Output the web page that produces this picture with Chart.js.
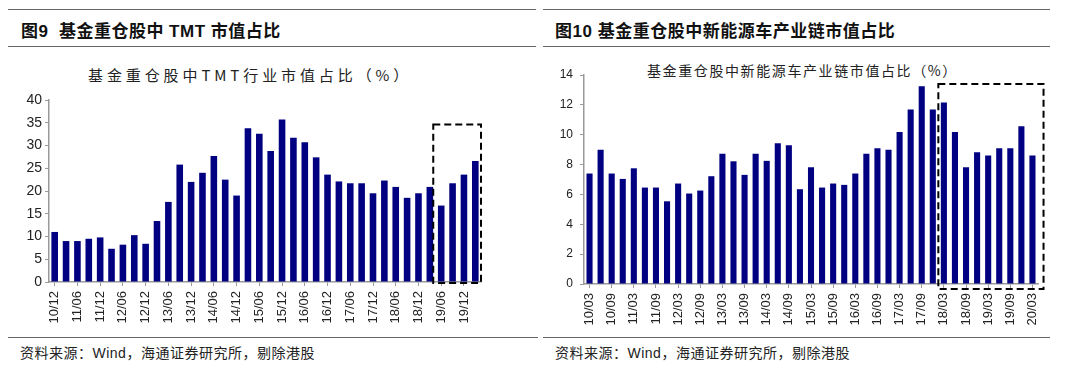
<!DOCTYPE html>
<html>
<head>
<meta charset="utf-8">
<script src="https://cdn.jsdelivr.net/npm/chart.js@4.4.1/dist/chart.umd.min.js"></script>
<style>
  body { margin: 0; background: #fff; width: 1080px; height: 379px; position: relative; overflow: hidden;
         font-family: "Liberation Sans", "Noto Sans CJK SC", sans-serif; color: #111; }
  .rule { position: absolute; height: 0; border-top: 1px solid #666; }
  .head { position: absolute; top: 17px; font-size: 17px; font-weight: bold; letter-spacing: 0.5px; white-space: nowrap; }
  .ctitle { position: absolute; font-family: "Noto Sans CJK SC", sans-serif; white-space: nowrap; color: #222; }
  .src { position: absolute; top: 342px; font-size: 14px; letter-spacing: 0.5px; white-space: nowrap; color: #222; }
  .box { position: absolute; }
</style>
</head>
<body>
<div class="rule" style="left:8px;width:528px;top:9px"></div>
<div class="rule" style="left:8px;width:528px;top:46px"></div>
<div class="rule" style="left:543px;width:507px;top:9px"></div>
<div class="rule" style="left:543px;width:507px;top:46px"></div>
<div class="rule" style="left:8px;width:530px;top:337px"></div>
<div class="rule" style="left:543px;width:507px;top:337px"></div>

<div class="head" style="left:21px">图9&nbsp;&nbsp;基金重仓股中 TMT 市值占比</div>
<div class="head" style="left:555px">图10 基金重仓股中新能源车产业链市值占比</div>

<div class="ctitle" style="left:88px;top:64px;font-size:15px;letter-spacing:3.9px">基金重仓股中TMT行业市值占比（%）</div>
<div class="ctitle" style="left:647px;top:60px;font-size:14px;letter-spacing:1.6px">基金重仓股中新能源车产业链市值占比（%）</div>

<div class="src" style="left:20px">资料来源：Wind，海通证券研究所，剔除港股</div>
<div class="src" style="left:555px">资料来源：Wind，海通证券研究所，剔除港股</div>

<div class="box" style="left:0;top:52px;width:540px;height:290px"><canvas id="tmtChart"></canvas></div>
<div class="box" style="left:540px;top:52px;width:540px;height:290px"><canvas id="nevChart"></canvas></div>

<script>
// TMT share, quarterly 10/12 - 20/03
var tmtLabels = ['10/12','11/03','11/06','11/09','11/12','12/03','12/06','12/09','12/12','13/03','13/06','13/09','13/12',
  '14/03','14/06','14/09','14/12','15/03','15/06','15/09','15/12','16/03','16/06','16/09','16/12','17/03','17/06','17/09','17/12',
  '18/03','18/06','18/09','18/12','19/03','19/06','19/09','19/12','20/03'];
var tmtValues = [11.0, 9.0, 9.0, 9.5, 9.8, 7.3, 8.2, 10.3, 8.4, 13.4, 17.6, 25.8, 22.0, 24.0, 27.7, 22.5, 19.0, 33.8, 32.6,
  28.8, 35.7, 31.7, 30.7, 27.4, 23.6, 22.1, 21.7, 21.7, 19.5, 22.3, 20.9, 18.5, 19.5, 20.9, 16.8, 21.7, 23.6, 26.6];
var tmtTicks = [0, 5, 10, 15, 20, 25, 30, 35, 40];

// new energy vehicle chain share, quarterly 10/03 - 20/03
var nevLabels = ['10/03','10/06','10/09','10/12','11/03','11/06','11/09','11/12','12/03','12/06','12/09','12/12',
  '13/03','13/06','13/09','13/12','14/03','14/06','14/09','14/12','15/03','15/06','15/09','15/12','16/03','16/06','16/09','16/12',
  '17/03','17/06','17/09','17/12','18/03','18/06','18/09','18/12','19/03','19/06','19/09','19/12','20/03'];
var nevValues = [7.4, 9.0, 7.4, 7.04, 7.75, 6.46, 6.46, 5.54, 6.73, 6.06, 6.26, 7.22, 8.72, 8.22, 7.31, 8.72, 8.25, 9.43, 9.3,
  6.35, 7.82, 6.46, 6.73, 6.64, 7.4, 8.72, 9.09, 9.0, 10.19, 11.69, 13.25, 11.69, 12.16, 10.19, 7.82, 8.83, 8.6, 9.09, 9.09, 10.57, 8.6];
var nevTicks = [0, 2, 4, 6, 8, 10, 12, 14];

var navy = '#000080';
var axisGray = '#9a9a9a';

// dashed highlight box, given in category index / value units
var dashBox = {
  id: 'dashBox',
  afterDatasetsDraw: function(chart, args, opts) {
    var x = chart.scales.x, y = chart.scales.y, c = chart.ctx;
    var x0 = x.getPixelForValue(opts.from), x1 = x.getPixelForValue(opts.to);
    var y0 = y.getPixelForValue(opts.top), y1 = y.getPixelForValue(opts.bottom);
    c.save();
    c.strokeStyle = '#000';
    c.lineWidth = 2;
    c.setLineDash([7, 4]);
    c.strokeRect(x0, y0, x1 - x0, y1 - y0);
    c.restore();
  }
};

function makeChart(id, labels, values, ticks, cfg) {
  return new Chart(document.getElementById(id).getContext('2d'), {
    type: 'bar',
    data: {
      labels: labels,
      datasets: [{
        data: values,
        backgroundColor: navy,
        borderWidth: 0,
        barPercentage: cfg.barPct,
        categoryPercentage: 1
      }]
    },
    plugins: [dashBox],
    options: {
      responsive: true,
      maintainAspectRatio: false,
      animation: false,
      layout: { padding: { top: cfg.padTop, right: cfg.padRight, left: 0, bottom: 0 } },
      plugins: {
        legend: { display: false },
        tooltip: { enabled: false },
        dashBox: cfg.box
      },
      scales: {
        x: {
          offset: true,
          grid: {
            offset: false,
            drawOnChartArea: false,
            tickLength: 4,
            tickColor: function(ctx) { return ctx.index % 2 === 0 ? axisGray : 'rgba(0,0,0,0)'; }
          },
          border: { color: axisGray, width: 1.5 },
          ticks: {
            autoSkip: false,
            minRotation: 90,
            maxRotation: 90,
            padding: 5,
            color: '#222',
            font: { family: 'Liberation Sans', size: 13 },
            callback: function(v, i) { return i % 2 === 0 ? this.getLabelForValue(v) : ''; }
          },
          afterFit: function(s) { s.height = cfg.xHeight; }
        },
        y: {
          min: ticks[0],
          max: ticks[ticks.length - 1],
          grid: { drawOnChartArea: false, tickLength: 4, tickColor: axisGray },
          border: { color: axisGray, width: 1.5 },
          ticks: {
            stepSize: ticks[1] - ticks[0],
            padding: cfg.yPad,
            color: '#222',
            font: { family: 'Liberation Sans', size: cfg.yFont }
          },
          afterFit: function(s) { s.width = cfg.yWidth; }
        }
      }
    }
  });
}

makeChart('tmtChart', tmtLabels, tmtValues, tmtTicks, {
  barPct: 0.58, padTop: 48, padRight: 59, xHeight: 60, yWidth: 49, yPad: 3, yFont: 14,
  box: { from: 33.3, to: 37.5, top: 34.6, bottom: -0.2 }
});

makeChart('nevChart', nevLabels, nevValues, nevTicks, {
  barPct: 0.55, padTop: 23, padRight: 42, xHeight: 58, yWidth: 44, yPad: 7, yFont: 12,
  box: { from: 31.5, to: 41, top: 13.4, bottom: -0.33 }
});
</script>
</body>
</html>
